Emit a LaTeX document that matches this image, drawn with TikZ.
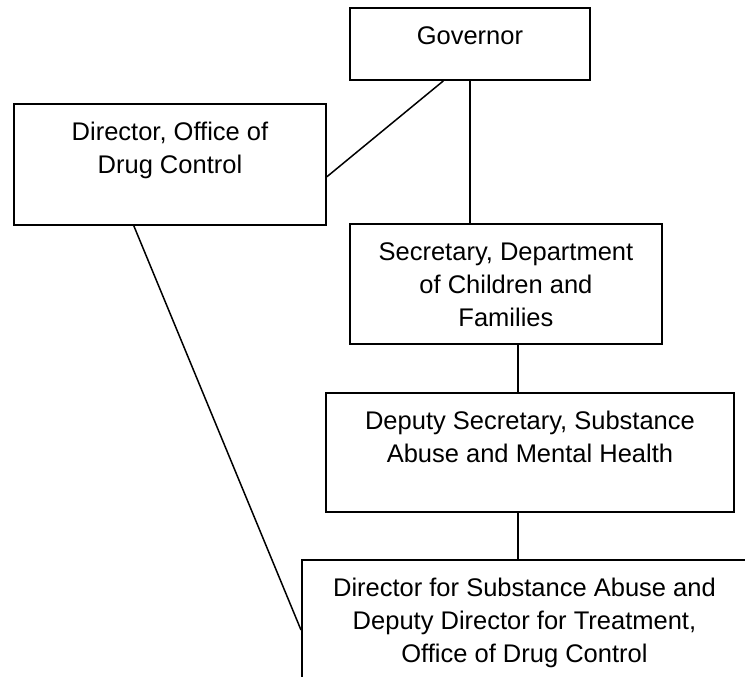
\documentclass[tikz,border=0pt]{standalone}
\usepackage{fontspec}
\setmainfont{Liberation Sans}
\usetikzlibrary{positioning,calc}
\tikzset{
  orgbox/.style={draw, line width=1.9pt, inner sep=0pt, anchor=north west},
  orgtext/.style={anchor=north, align=center, inner sep=0pt, font=\fontsize{25.5}{33}\selectfont},
  link/.style={line width=1.5pt}
}
\begin{document}
\begin{tikzpicture}[x=1pt,y=-1pt]
  \useasboundingbox (0,0) rectangle (745,677);
  \clip (0,0) rectangle (745,677);

  % boxes
  \node[orgbox, minimum width=240pt, minimum height=72pt] (gov) at (349,7) {};
  \node[orgbox, minimum width=312pt, minimum height=121pt] (dir) at (13,103) {};
  \node[orgbox, minimum width=312pt, minimum height=120pt] (sec) at (349,223) {};
  \node[orgbox, minimum width=408pt, minimum height=119pt] (dep) at (325,392) {};
  \node[orgbox, minimum width=445pt, minimum height=140pt] (ddir) at (301,559) {};

  % texts
  \node[orgtext, below=19pt of gov.north] (govtxt) {Governor};
  \node[orgtext, below=19pt of dir.north] (dirtxt) {Director, Office of\\Drug Control};
  \node[orgtext, below=19pt of sec.north] (sectxt) {Secretary, Department\\of Children and\\Families};
  \node[orgtext, below=19pt of dep.north] (deptxt) {Deputy Secretary, Substance\\Abuse and Mental Health};
  \node[orgtext, below=19pt of ddir.north] (ddirtxt) {Director for Substance Abuse and\\Deputy Director for Treatment,\\Office of Drug Control};

  % lines
  \draw[link] ($(gov.south west)!0.39!(gov.south east)$) -- ($(dir.north east)!0.6!(dir.south east)$);
  \draw[link] (gov.south) -- (gov.south |- sec.north);
  \draw[link] ($(sec.south)+(12,0)$) -- ($(dep.north)+(-12,0)$);
  \draw[link] ($(dep.south)+(-12,0)$) -- ($(ddir.north)+(-6.5,0)$);
  \draw[link] ($(dir.south west)!0.385!(dir.south east)$) -- ($(ddir.north west)+(0,71)$);
\end{tikzpicture}
\end{document}
